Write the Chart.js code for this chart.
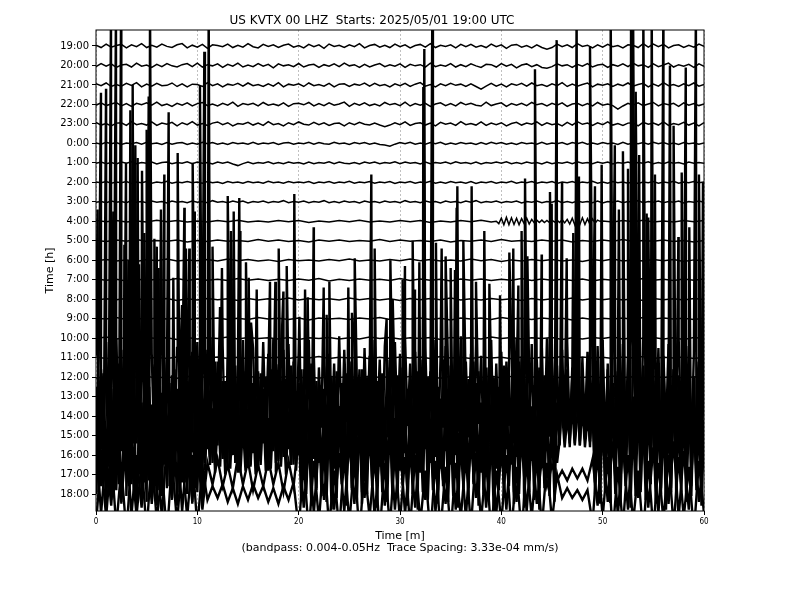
<!DOCTYPE html>
<html>
<head>
<meta charset="utf-8">
<script src="https://cdn.jsdelivr.net/npm/chart.js@4/dist/chart.umd.min.js"></script>
<style>
  html, body { margin: 0; padding: 0; background: #fff; }
  canvas { display: block; }
</style>
</head>
<body>
<canvas id="heli" width="800" height="600"></canvas>
<script>
// Helicorder: US KVTX 00 LHZ, one trace per hour, each array spans 0-60 min evenly
const hourLabels = ['19:00', '20:00', '21:00', '22:00', '23:00', '0:00', '1:00', '2:00', '3:00', '4:00', '5:00', '6:00',
    '7:00', '8:00', '9:00', '10:00', '11:00', '12:00', '13:00', '14:00', '15:00', '16:00', '17:00', '18:00'];
const xTicks = [0, 10, 20, 30, 40, 50, 60];

// quiet hours: amplitude in 1/50 of trace spacing (121 values = every 0.5 min, 61 = every min)
const h1900 = [2,-4,5,-3,1,4,-5,3,-2,6, -4,2,-3,5,-1,-4,3,6,-5,2, -3,4,-6,3,1,-2,5,-4,2,-3, 6,-2,-5,4,-1,3,-4,2,5,-3,
    1,-5,4,-2,3,-6,5,-1,2,-4, 3,-2,6,-5,1,4,-3,2,-4,5, -2,3,-5,1,4,-3,6,-4,2,-1, 3,-5,4,-2,4,-3,1,-4,5,-2,
    3,-6,2,4,-3,1,-5,3,-4,-8, -4,5,-2,3,-4,6,-1,2,-5,3, -3,4,-2,1,-5,3,2,-4,6,-3, 5,-2,4,-5,1,3,-4,2,-3,5,-1];
const h2000 = [-3,5,-2,4,-5,1,3,-4,6,-2, 1,-5,3,-3,5,-1,-4,2,5,-3, 6,-4,2,-1,4,-5,3,-2,6,-4, 1,-3,5,-2,3,-6,4,-1,2,-3,
    5,-4,1,3,-5,2,-2,4,-3,6, -1,2,-5,3,-4,1,5,-3,2,-2, 4,-5,3,-1,2,-4,6,-3,1,-2, 5,-4,2,-3,4,-1,-5,3,2,-4,
    5,-2,3,-6,1,4,-3,2,-5,-7, -3,4,-1,2,-5,3,-2,5,-4,1, 3,-5,2,-2,4,-3,6,-1,2,-5, 4,-3,1,6,-4,2,-2,3,-5,4,-2];
const h2100 = [3,-2,5,-4,1,-3,4,-1,6,-5, 2,-3,4,-2,-1,5,-4,3,-5,2, 1,-4,6,-2,3,-5,2,-1,4,-3, 5,-2,1,-4,3,-3,6,-5,2,-1,
    3,-4,5,-2,1,-3,4,-5,2,3, -4,2,-1,5,-3,4,-2,1,-5,3, -2,4,-4,2,6,-3,1,-5,3,-2, 4,-1,2,-4,3,-4,-11,-3,4,-3,
    2,-5,3,-1,4,-3,5,-2,1,-4, 3,-2,6,-4,2,-3,1,5,-5,2, -1,3,-4,2,-2,5,-3,1,4,-5, 2,-3,6,-2,1,-4,3,-2,5,-3,1];
const h2200 = [-2,4,-3,1,5,-4,2,-5,3,-1, 4,-2,6,-3,1,-5,3,-2,4,-4, 2,5,-3,1,-4,3,-2,6,-5,2, -1,3,-4,5,-2,1,-3,4,-5,2,
    3,-1,5,-4,2,-3,4,-2,1,6, -5,3,-2,4,-3,1,-4,5,-1,2, -3,6,-4,2,-2,3,-5,1,4,-3, 2,-4,5,-1,3,-2,-4,6,-3,1,
    4,-5,2,-2,3,-3,5,-1,2,-4, 3,-2,4,-5,1,3,-3,2,-4,5, -2,1,-3,-12,-4,3,-2,4,-3,1, 5,-4,2,-1,3,-5,4,-2,2,-3,1];
const h2300 = [4,-3,1,-5,2,3,-4,6,-2,1, -3,5,-4,2,-1,4,-5,3,-2,6, -3,1,-4,2,5,-2,3,-5,1,-1, 4,-3,2,-4,6,-2,1,-5,3,-2,
    5,-1,-3,4,-2,3,-4,1,2,-5, 3,-2,4,-1,-3,2,-3,-7,-3,3, -2,5,-4,1,3,-3,2,-5,4,-1, 2,-4,6,-2,1,-3,5,-4,2,-2,
    3,-5,1,4,-3,2,-1,5,-4,3, -2,1,-5,4,-3,6,-1,2,-4,3, -2,5,-3,1,-4,2,3,-5,4,-1, 2,-3,5,-4,1,-2,4,-3,2,-5,3];
const h0000 = [1,-2,3,-1,2,-3,1,-1,2,-2, 3,-1,1,-3,2,-2,1,2,-3,1, -2,3,-1,2,-2,1,-3,2,-1,1, -2,3,-2,1,-1,2,-3,1,2,-2,
    1,-1,3,-2,2,-1,-2,3,-1,1, -3,2,-1,2,-2,1,-3,-4,-7,-2, 2,-1,3,-2,1,-2,2,-1,3,-3, 1,-2,2,-1,1,-3,2,-2,3,-1,
    2,-2,1,-3,2,-1,1,-2,3,-2, 1,-1,2,-3,2,-1,3,-2,1,-2, 2,-1,1,-3,3,-2,1,-1,2,-2, 3,-1,2,-2,1,-3,2,-1,1,-2,1];
const h0100 = [-1,2,-2,1,-3,2,-1,3,-2,1, -1,2,-3,1,2,-2,1,-1,3,-2, 2,-1,1,-3,2,-1,2,-3,-7,-2, 2,-2,1,-1,3,-2,1,-2,2,-1,
    1,-3,2,-2,1,-1,3,-2,2,-1, -2,1,-3,2,-1,2,-2,1,-1,3, -2,2,-1,1,-3,2,-2,1,-1,2, -2,3,-1,1,-2,2,-3,1,-1,2,
    -1,3,-2,1,-2,2,-1,1,-3,2, -2,1,-1,2,-2,3,-1,1,-2,2, -1,2,-3,1,-1,2,-2,1,-1,3, -2,1,-2,2,-1,1,-3,2,-1,1,-1];
const h0200 = [1,-1,2,-2,1,-1,2,-3,1,-1, 2,-2,1,-1,3,-2,1,-1,2,-1, 1,-2,2,-1,1,-3,2,-1,1,-2, 2,-1,1,-2,3,-1,1,-2,2,-1,
    1,-1,2,-3,1,-1,2,-2,1,-1, 3,-2,1,-1,2,-2,1,-1,2,-3, 1,-1,2,-2,1,-1,3,-2,1,-2, 2,-1,1,-2,2,-3,1,-1,2,-2,
    1,-1,3,-2,1,-1,2,-2,1,-1, 2,-3,1,-1,2,-2,1,-1,3,-2, 1,-2,2,-1,1,-2,2,-3,1,-1, 2,-2,1,-1,3,-2,1,-1,2,-1,1];
const h0300 = [-1,1,-2,2,-1,1,-2,3,-1,1, -2,2,-1,1,-3,2,-1,1,-2,2, -1,1,-2,3,-1,1,-2,2,-1,2, -3,1,-1,2,-2,1,-1,3,-2,1,
    -1,2,-2,1,-1,3,-2,1,-2,2, -1,1,-3,2,-1,1,-2,2,-1,1, -2,3,-1,1,-2,2,-1,1,-3,2, -1,1,-2,2,-1,3,-2,1,-1,2,
    -2,1,-1,2,-3,1,-1,2,-2,1, -1,3,-2,1,-2,2,-1,1,-2,2, -3,1,-1,2,-2,1,-1,3,-2,1, -1,2,-2,1,-1,2,-3,1,-1,2,-1];
const h0400 = [2,-1,2,-2,1,-2,3,-1,2,-2, 1,-2,2,-1,3,-2,1,-2,2,-1, 2,-3,1,-2,2,-1,3,-2,1,-2, 2,-1,2,-3,1,-2,2,-1,3,-2,
    0,0,0,0,0,0,0,0,0,-2, 1,-2,2,-1,3,-2,1,-2,2,-1, 2];
// 4:00 ripple, in 1/50 of trace spacing, every 0.25 min from 39.5 min
const h0400RippleStart = 39.5;
const h0400Ripple = [0,-6,8,-9,10,-9,9,-8,8,-9,7,-6,8,-7,5,-4,
    3,-3,3,-3,2,-3,3,-2,3,-3,4,-4,
    5,-7,8,-9,9,-8,9,-8,7,-8,6,-5,3, 0];
const h0500 = [1,-2,2,-1,3,-2,1,-1,2,-3, 1,-2,2,-1,1,-2,3,-1,2,-2, 1,-3,2,-1,2,-2,1,-1,3,-2, 2,-1,1,-2,2,-3,1,-1,2,-2, 3,-1,1,-2,2,-1,2,-3,1,-2, 2,-1,3,-2,1,-1,2,-2,1,-3, 1];
const h0600 = [-1,2,-2,1,-3,2,-1,3,-2,1, -1,2,-2,3,-1,2,-2,1,-3,2, -1,1,-2,2,-1,3,-2,1,-2,2, -1,3,-1,2,-2,1,-2,3,-1,2, -3,1,-2,2,-1,2,-2,1,-3,2, -1,3,-2,1,-2,2,-1,2,-3,1, -1];
const h0700 = [2,-1,1,-3,2,-2,1,-1,3,-2, 2,-1,1,-2,3,-1,2,-2,1,-2, 2,-1,3,-3,1,-2,2,-1,1,-2, 3,-2,2,-1,1,-3,2,-1,2,-2, 1,-1,3,-2,2,-1,1,-2,2,-3, 1,-1,2,-2,3,-1,1,-2,2,-1, 2];
const h0800 = [-2,1,-1,2,-2,3,-1,2,-3,1, -2,2,-1,1,-3,2,-2,1,-1,3, -2,2,-1,1,-2,3,-1,2,-2,1, -3,2,-1,2,-1,3,-2,1,-2,2, -1,1,-3,2,-2,1,-1,3,-2,2, -1,2,-2,1,-3,2,-1,1,-2,2, -1];
const h0900 = [1,-1,3,-2,1,-2,2,-1,2,-3, 1,-1,2,-2,1,-2,3,-1,1,-2, 2,-3,2,-1,1,-2,2,-1,3,-2, 1,-1,2,-2,1,-3,2,-1,2,-2, 3,-1,1,-2,2,-1,1,-3,2,-2, 1,-1,2,-2,3,-1,2,-1,1,-2, 1];
const h1000 = [-1,3,-2,1,-2,2,-1,1,-3,2, -2,1,-1,3,-2,2,-1,1,-2,2, -3,1,-1,2,-2,1,-2,3,-1,2, -2,1,-1,2,-3,2,-1,1,-2,3, -1,2,-2,1,-1,2,-3,1,-2,2, -1,3,-2,1,-1,2,-2,1,-3,2, -1];
const h1100 = [2,-2,1,-1,3,-2,1,-2,2,-1, 3,-1,2,-2,1,-3,2,-1,1,-2, 2,-1,3,-2,1,-1,2,-3,1,-2, 2,-1,2,-2,3,-1,1,-2,2,-1, 1,-3,2,-2,1,-1,3,-2,2,-1, 1,-2,2,-1,3,-2,1,-1,2,-2, 1];
const h1200 = [-2,2,-1,3,-1,2,-2,1,-3,2, -1,1,-2,2,-1,3,-2,1,-1,2, -2,1,-3,2,-1,2,-2,3,-1,1, -2,2,-1,1,-3,2,-2,1,-1,3, -2,2,-1,1,-2,2,-3,1,-1,2, -2,3,-1,1,-2,2,-1,2,-3,1, -1];

// loud hours: amplitude in trace spacings (241 values = every 0.25 min, 121 = every 0.5 min)
const h1300 = [2.1,-2.6,1.4,-1.9,2.8,-2.2,0.9,-2.7,3.0,-1.5, 2.4,-3.0,1.7,-1.2,2.6,-2.4,1.9,-2.9,1.3,-2.0,
    2.7,-1.6,2.2,-2.8,1.5,-2.3,3.1,-1.8,2.0,-2.5, 1.1,-2.9,2.5,-1.4,2.9,-2.1,1.6,-3.0,2.3,-1.7,
    2.8,-2.2,1.2,-2.6,2.4,-1.9,3.0,-2.4,1.8,-1.3, 2.6,-2.8,2.0,-1.6,2.7,-3.1,1.5,-2.0,2.9,-2.3,
    1.9,-1.5,2.5,-2.7,1.3,-2.2,2.8,-1.8,2.2,-2.9, 3.0,-2.0,1.6,-2.5,2.4,-1.4,2.7,-3.0,1.8,-2.1,
    2.3,-2.6,1.4,-1.8,2.9,-2.3,2.0,-2.8,1.5,-1.6, 2.6,-3.0,2.2,-1.9,1.7,-2.5,3.1,-2.2,2.4,-1.3,
    1.8,-2.7,2.8,-2.0,1.4,-2.9,2.5,-1.7,2.1,-2.4, 2.9,-1.6,1.9,-3.0,2.6,-2.1,1.5,-2.6,2.8,-1.8,
    2.2,-2.4,3.0,-1.5,1.7,-2.8,2.3,-2.0,1.9,-2.7, 2.5,-1.9,1.3,-2.3,2.9,-3.1,2.0,-1.6,2.6,-2.2,
    1.6,-2.9,2.4,-1.8,3.1,-2.5,1.8,-2.1,2.2,-2.8, 2.7,-1.4,2.1,-2.6,1.5,-2.0,2.9,-3.0,1.7,-2.3,
    2.3,-2.7,1.8,-1.5,2.6,-2.4,3.0,-1.9,2.0,-2.9, 1.4,-2.2,2.7,-2.8,1.9,-1.7,2.5,-2.5,3.0,-2.0,
    2.1,-1.6,1.6,-2.4,2.4,-1.8,2.8,-2.1,1.5,-2.2, 2.6,-1.9,2.0,-1.7,2.3,-2.3,1.9,-2.8,2.6,-1.6,
    2.9,-2.6,1.7,-2.0,2.4,-3.0,1.3,-2.5,2.7,-1.9, 2.0,-2.8,2.8,-1.4,1.8,-2.2,3.0,-2.7,2.2,-1.7,
    1.6,-2.4,2.5,-2.9,2.1,-1.8,2.7,-2.3,1.4,-2.6, 3.0,-2.0,1.9,-1.6,2.6,-2.8,2.2,-2.1,1.8,-2.4, 2.0];
const h1400 = [-2.3,2.9,-1.7,2.2,-3.1,1.8,-2.5,1.5,-2.0,2.7, -1.8,2.4,-2.9,1.6,-2.2,3.0,-1.4,2.1,-2.7,1.9,
    -2.4,1.5,-2.0,2.6,-1.5,2.2,-2.8,2.9,-2.0,1.7, -2.3,2.4,-1.6,1.9,-2.9,1.3,-2.1,2.7,-1.8,2.2,
    -2.6,1.6,-3.0,2.3,-1.7,2.0,-2.4,2.8,-1.5,2.5, -2.2,1.8,-2.7,1.4,-2.0,2.6,-2.9,2.1,-1.6,2.3,
    -2.4,2.9,-1.9,1.7,-2.6,2.2,-1.4,2.0,-2.8,2.4, -1.8,1.5,-2.3,2.8,-2.1,1.9,-1.7,2.6,-2.5,1.3,
    -2.0,2.4,-2.9,2.1,-1.6,2.7,-2.2,1.8,-2.4,1.6, -1.9,2.5,-1.5,2.0,-2.7,2.3,-1.3,1.7,-2.6,2.2,
    -2.1,2.8,-2.5,1.5,-1.8,2.4,-2.8,2.0,-1.7,2.6, -2.3,1.8,-2.6,2.2,-1.5,2.9,-2.0,1.6,-2.4,2.1,
    -2.8,2.5,-1.9,1.4,-2.3,2.7,-1.6,2.3,-2.9,1.8, -1.7,2.0,-2.4,2.6,-2.1,1.5,-2.7,2.9,-1.8,2.3,
    -2.5,1.7,-2.0,2.4,-1.4,2.1,-2.6,1.9,-2.2,2.8, -1.6,2.3,-2.9,1.8,-2.3,2.5,-1.9,2.0,-2.7,1.5,
    -2.2,2.6,-1.7,2.2,-2.5,1.7,-2.1,2.8,-1.5,2.4, -2.8,2.0,-2.3,1.6,-1.9,2.5,-2.6,2.1,-1.8,2.7,
    -2.0,1.9,-2.4,-1.3,1.8,-1.0,2.4,-1.4,2.0,-1.2, 2.6,-1.5,1.7,-1.1,2.3,-1.3,2.1,-2.5,1.6,-2.2,
    2.8,-1.9,2.4,-2.6,1.5,-2.1,2.9,-1.7,2.2,-2.4, 1.7,-2.8,2.5,-2.0,1.9,-2.3,2.6,-1.6,2.0,-2.7,
    2.3,-1.8,1.5,-2.5,2.8,-2.2,1.8,-1.9,2.4,-2.6, 2.1,-2.3,1.6,-2.8,2.7,-1.5,2.0,-2.4,2.5,-1.8, 1.9];
const h1500 = [2.5,-2.9,1.8,-2.2,3.0,-1.6,2.4,-3.1,1.9,-2.5, 2.8,-1.7,2.1,-2.6,1.5,-3.0,2.6,-2.0,1.7,-2.4,
    2.9,-2.3,1.6,-1.9,2.7,-2.8,2.2,-1.5,3.0,-2.6, 1.8,-2.1,2.4,-2.9,1.4,-2.4,2.8,-1.8,2.0,-2.7,
    2.6,-2.2,1.9,-1.4,2.5,-1.1,3.0,-1.5,1.7,-0.9, 2.8,-1.3,2.2,-1.0,2.6,-1.4,1.8,-0.8,2.9,-1.2,
    2.3,-1.5,2.7,-0.9,1.6,-1.3,2.4,-1.1,3.0,-0.7, 2.1,-1.4,2.8,-1.2,1.9,-1.0,2.5,-1.5,2.2,-0.9,
    2.7,-2.6,1.6,-2.3,2.9,-1.9,2.2,-2.8,1.8,-2.1, 2.4,-3.0,2.0,-1.7,2.6,-2.5,1.5,-2.2,3.1,-2.4,
    1.9,-2.7,2.5,-2.0,1.7,-2.9,2.8,-1.6,2.3,-2.3, 2.6,-1.8,3.0,-2.6,1.4,-2.1,2.2,-2.9,2.0,-1.5,
    2.4,-2.4,1.8,-3.0,2.9,-1.7,2.1,-2.5,1.6,-2.2, 2.8,-2.0,2.3,-1.5,2.6,-2.8,1.9,-2.3,2.7,-1.9,
    1.5,-2.6,2.4,-2.2,3.0,-1.6,2.0,-2.7,2.2,-2.4, 2.7,-1.9,1.7,-2.8,2.5,-2.1,2.9,-1.5,1.8,-2.6,
    2.3,-2.5,2.8,-1.8,1.6,-2.9,2.4,-2.2,2.0,-1.7, 2.9,-2.3,1.5,-2.0,2.6,-2.7,2.1,-1.6,2.5,-2.8,
    1.8,-2.1,2.7,-0.5,2.2,-0.3,1.9,-0.6,2.5,-0.4, 2.0,-0.5,2.6,-0.2,1.7,-0.6,2.3,-2.4,2.8,-1.8,
    2.1,-2.9,1.6,-2.2,2.7,-1.7,3.0,-2.5,1.9,-2.3, 2.5,-2.6,2.0,-1.9,1.5,-2.8,2.6,-2.1,2.2,-1.6,
    2.8,-2.4,1.7,-2.7,2.3,-2.0,1.9,-2.9,2.6,-1.8, 2.0,-2.2,2.9,-1.5,2.4,-2.6,1.6,-2.3,2.7,-2.0, 1.7];
const h1600 = [-2.0,2.5,-1.6,2.1,-2.7,1.4,-2.3,2.8,-1.8,2.2, -2.5,1.7,-2.1,2.6,-1.5,2.3,-2.8,1.9,-2.2,1.6,
    -2.4,2.7,-1.9,2.0,-2.6,1.5,-2.1,2.4,-1.7,2.9, -2.3,1.8,-2.6,2.2,-1.4,2.5,-2.0,1.7,-2.5,2.1,
    -1.9,2.6,-2.2,-0.8,2.0,-0.5,2.4,-0.9,1.6,-0.6, 2.5,-1.0,1.8,-0.7,2.2,-0.4,2.7,-0.9,1.5,-0.8,
    2.3,-0.6,2.0,-1.0,1.7,-0.5,2.6,-0.8,1.9,-0.7, 2.1,-0.9,2.4,-0.6,1.8,-1.0,2.2,-0.5,2.5,-0.8,
    1.7,-2.3,2.6,-2.0,1.5,-2.6,2.2,-1.7,2.8,-2.1, 1.9,-2.4,2.0,-2.8,1.6,-2.2,2.5,-1.5,2.1,-2.6,
    2.7,-1.8,1.7,-2.3,2.4,-2.5,1.8,-2.0,2.6,-1.6, 2.0,-2.7,2.3,-1.9,1.5,-2.4,2.8,-2.1,1.9,-2.2,
    2.5,-1.5,2.1,-2.6,1.8,-2.0,2.4,-2.8,1.6,-1.9, 2.9,-2.3,1.7,-1.8,2.2,-2.5,2.0,-1.6,2.6,-2.4,
    1.6,-2.1,2.5,-2.7,1.9,-1.7,2.3,-2.2,2.7,-1.5, 2.2,-2.6,1.8,-2.0,2.6,-2.4,1.5,-2.9,2.1,-1.8,
    2.4,-2.2,2.8,-1.6,1.7,-2.5,2.3,-2.0,1.9,-2.7, 2.6,-1.9,2.0,-2.3,1.6,-2.8,2.5,-1.7,2.2,-2.1,
    1.8,-2.4,2.7,0.6,2.2,0.4,1.9,0.8,2.5,0.5, 2.0,0.7,2.4,0.4,1.8,0.9,2.3,-2.0,1.7,-2.5,
    2.6,-1.8,2.1,-2.4,1.5,-2.0,2.8,-2.6,1.9,-1.6, 2.3,-2.7,1.8,-2.1,2.5,-1.9,2.0,-2.3,2.7,-1.5,
    1.6,-2.5,2.4,-2.0,1.9,-2.8,2.2,-1.7,2.6,-2.2, 2.1,-1.9,2.7,-2.4,1.7,-2.1,2.5,-1.8,2.0,-2.6, 1.8];
const h1700 = [1.8,-2.0,1.2,-1.6,2.2,-1.4,1.9,-2.1,1.0,-1.7, 2.0,-1.5,1.4,-2.2,1.7,-1.2,2.1,-1.9,1.5,-1.4,
    1.6,-1.8,0.6,-0.5,0.8,-0.6,0.5,-0.7,0.9,-0.5, 0.7,-0.8,0.5,-0.6,0.8,-0.5,0.6,-0.9,0.7,-0.6,
    1.9,-1.7,1.4,-2.0,1.8,-1.3,2.2,-1.8,1.1,-1.9, 1.7,-1.5,2.1,-1.2,1.8,-2.2,1.3,-1.6,2.0,-1.8,
    1.5,-2.0,1.1,-1.7,2.2,-1.3,1.8,-1.9,1.0,-1.5, 2.1,-1.8,1.3,-2.2,1.6,-1.2,1.9,-1.7,1.5,-2.0,
    1.2,-1.8,2.2,-1.4,1.7,-1.9,1.8,-1.5,0.8,-0.6, 0.5,-0.3,0.2,-0.3,0.3,-0.2,0.3,-0.3,0.8,-1.6,
    2.0,-1.4,1.7,-2.1,1.5,-1.8,2.2,-1.2,1.9,-1.7, 1.4,-2.0,2.1,-1.5,1.7,-2.2,1.2,-1.8,2.0,-1.4,1.0];
const h1800 = [-1.6,1.9,-1.2,2.1,-1.7,1.4,-2.0,1.8,-1.1,1.6, -1.9,2.0,-1.4,1.3,-2.1,1.7,-1.5,1.9,-1.2,2.0,
    -1.7,1.4,-0.3,0.4,-0.2,0.5,-0.4,0.3,-0.5,0.4, -0.3,0.5,-0.2,0.4,-0.4,0.3,-0.5,0.4,-0.3,0.6,
    -1.8,1.6,-2.0,1.7,-1.4,2.1,-1.7,1.2,-1.9,2.0, -1.5,1.7,-2.1,1.4,-1.2,1.9,-2.0,1.6,-1.7,2.1,
    -1.4,1.9,-1.7,2.0,-1.5,1.2,-2.1,1.7,-1.9,1.4, -2.0,1.6,-1.2,1.9,-1.7,2.1,-1.4,1.7,-2.0,1.2,
    -1.5,2.0,-1.9,1.4,-2.1,1.7,-1.2,1.9,-1.7,1.6, -1.4,1.0,-0.2,0.3,-0.2,0.2,-0.3,0.2,-1.5,2.1,
    -1.2,1.9,-2.0,1.4,-1.7,2.0,-1.5,1.2,-2.1,1.7, -1.9,1.6,-1.4,2.0,-1.7,1.9,-1.2,1.4,-2.0,1.7,-1.0];

// narrow peaks: [minute, amplitude in trace spacings]
const peaks1300 = [[0.16,9.6],[1.71,9.5],[2.96,12.0],[3.75,7.5],[4.54,11.6],[5.33,20],[6.41,9.6],[8.06,12.5],[9.21,7.6],
    [10.69,17.7],[12.43,6.6],[14.14,10.2],[15.3,3.8],[18.03,7.6],[20.07,4.1],[22.47,5.6],[25.26,4.3],[28.68,4.0],
    [30.49,6.7],[32.3,15.9],[34.11,7.6],[35.59,9.7],[37.5,5.9],[40.79,7.4],[42.34,11.2],[44.8,10.5],[46.45,7.1],
    [48.75,18.0],[51.2,12.9],[52.8,20],[54.01,20],[55.16,11.4],[57.47,8.2],[59.2,20]];
const peaks1400 = [[0.49,16.6],[1.97,21],[3.2,8.0],[3.88,13.9],[4.77,9.4],[5.76,9.1],[6.74,12.4],[8.49,5.7],[9.54,13.0],
    [11.12,21],[13.0,11.3],[14.24,9.5],[15.86,6.5],[18.49,6.4],[20.63,6.5],[22.76,5.2],[25.53,8.1],[29.05,8.0],
    [31.25,9.0],[32.4,18.85],[34.5,8.2],[35.66,11.8],[38.32,9.5],[41.18,8.6],[42.57,8.2],[44.97,10.9],[47.1,9.4],
    [49.24,11.8],[51.6,10.6],[53.0,21],[54.34,10.4],[55.99,21],[57.8,12.5],[59.5,12.4]];
const peaks1500 = [[0.99,17.8],[2.47,22],[3.39,16.7],[4.11,14.25],[5.0,15.7],[5.99,9.7],[7.17,16.6],[8.72,11.7],[9.7,11.5],
    [11.5,9.7],[13.32,10.5],[14.8,8.9],[17.17,7.9],[18.82,8.7],[20.89,7.1],[23.03,7.9],[27.17,13.4],[29.28,7.0],
    [31.48,7.5],[33.19,22],[35.0,8.6],[36.25,10.0],[38.82,7.8],[41.68,7.7],[43.32,18.8],[45.46,20.3],[47.43,22],
    [49.9,13.9],[52.0,14.6],[53.26,17.65],[54.5,11.2],[56.64,19.0],[58.2,18.9],[59.9,13.0]];
const peaks1600 = [[1.48,23],[2.8,10.8],[3.62,19.0],[4.25,9.8],[5.2,18.4],[6.18,9.6],[7.63,9.1],[8.88,10.6],[10.26,19.0],
    [12.24,7.6],[13.59,12.5],[15.07,9.1],[17.7,8.9],[19.57,13.4],[21.48,11.7],[24.9,8.6],[27.5,10.6],[30.26,9.0],
    [31.91,9.9],[33.55,10.9],[35.43,9.5],[37.07,13.8],[39.87,8.2],[42.0,11.5],[43.98,10.3],[45.99,14.0],[47.66,14.3],
    [50.79,23],[52.5,14.7],[53.6,15.4],[54.84,23],[57.0,16.9],[58.55,11.7]];

const quietHours = [h1900, h2000, h2100, h2200, h2300, h0000, h0100, h0200, h0300, h0400,
    h0500, h0600, h0700, h0800, h0900, h1000, h1100, h1200];
const loudHours = [h1300, h1400, h1500, h1600, h1700, h1800];
const loudPeaks = [peaks1300, peaks1400, peaks1500, peaks1600, [], []];

const titleText = 'US KVTX 00 LHZ  Starts: 2025/05/01 19:00 UTC';
const xTitle = ['Time [m]', '(bandpass: 0.004-0.05Hz  Trace Spacing: 3.33e-04 mm/s)'];

// samples spread evenly over the hour, offset to the trace's own row
const toPoints = (samples, row, scale) => {
    const step = 60 / (samples.length - 1);
    return samples.map((a, i) => ({ x: i * step, y: row - a * scale }));
};

const datasets = [];
quietHours.forEach((samples, row) => {
    let pts = toPoints(samples, row, 0.02);
    if (row === 9) {
        const end = h0400RippleStart + (h0400Ripple.length - 1) * 0.25;
        pts = pts.filter(p => p.x < h0400RippleStart || p.x > end);
        h0400Ripple.forEach((a, i) => pts.push({ x: h0400RippleStart + i * 0.25, y: row - a * 0.02 }));
        pts.sort((p, q) => p.x - q.x);
    }
    datasets.push({ data: pts, borderWidth: 1.5 });
});
loudHours.forEach((samples, k) => {
    const row = quietHours.length + k;
    const pts = toPoints(samples, row, 1);
    loudPeaks[k].forEach(([t, a]) => pts.push({ x: t, y: row - a }));
    pts.sort((p, q) => p.x - q.x);
    datasets.push({ data: pts, borderWidth: 2.4 });
});
datasets.forEach(ds => {
    ds.borderColor = '#000';
    ds.pointRadius = 0;
    ds.tension = 0;
    ds.clip = 0;
});

// frame around the plot area
const framePlugin = {
    id: 'frame',
    afterDraw(chart) {
        const { ctx, chartArea: a } = chart;
        ctx.save();
        ctx.strokeStyle = '#000';
        ctx.lineWidth = 1;
        ctx.strokeRect(a.left, a.top, a.right - a.left, a.bottom - a.top);
        ctx.restore();
    }
};

Chart.defaults.font.family = "'DejaVu Sans', sans-serif";
Chart.defaults.color = '#000';

const ctx = document.getElementById('heli').getContext('2d');
const heliChart = new Chart(ctx, {
    type: 'line',
    data: { datasets },
    plugins: [framePlugin],
    options: {
        responsive: false,
        animation: false,
        events: [],
        layout: { padding: { left: 40, right: 96, top: 0, bottom: 42 } },
        plugins: {
            legend: { display: false },
            tooltip: { enabled: false },
            title: {
                display: true,
                text: titleText,
                color: '#000',
                font: { size: 12, weight: 'normal' },
                padding: { top: 14, bottom: 1.6 }
            }
        },
        scales: {
            x: {
                type: 'linear',
                min: 0,
                max: 60,
                afterBuildTicks: s => { s.ticks = xTicks.map(v => ({ value: v })); },
                ticks: {
                    color: '#000',
                    padding: 2,
                    maxRotation: 0,
                    font: { family: "'DejaVu Sans Condensed', 'Liberation Sans Narrow', 'DejaVu Sans'", size: 8 }
                },
                grid: { color: '#b0b0b0', lineWidth: 0.8, tickColor: '#000', tickLength: 4, tickWidth: 1 },
                border: { display: false, dash: [2, 2] },
                title: { display: true, text: xTitle, color: '#000', font: { size: 11, lineHeight: 1.1 }, padding: { top: 2, bottom: 4 } },
                afterFit: s => { s.height = 47; }
            },
            y: {
                type: 'linear',
                reverse: true,
                min: -0.82,
                max: 23.87,
                afterBuildTicks: s => { s.ticks = hourLabels.map((_, i) => ({ value: i })); },
                ticks: {
                    autoSkip: false,
                    color: '#000',
                    padding: 3,
                    font: { size: 10 },
                    callback: v => hourLabels[v]
                },
                grid: { color: 'rgba(0,0,0,0)', tickColor: '#000', tickLength: 4, tickWidth: 1 },
                border: { display: false },
                title: { display: true, text: 'Time [h]', color: '#000', font: { size: 11 }, padding: { top: 4, bottom: 0 } },
                afterFit: s => { s.width = 56; }
            }
        }
    }
});
</script>
</body>
</html>
